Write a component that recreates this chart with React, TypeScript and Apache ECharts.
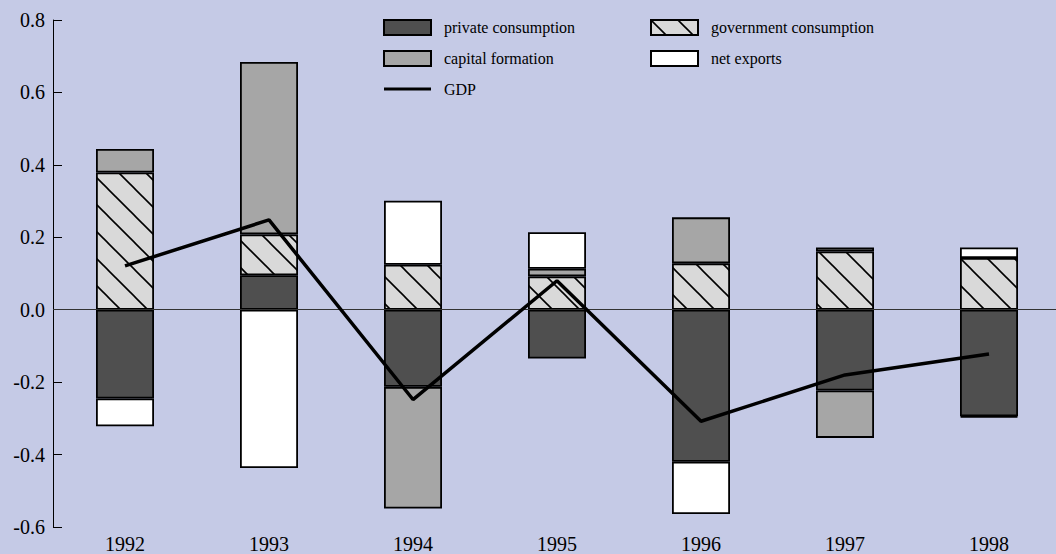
import React, { useEffect, useRef } from "react";
import * as echarts from "echarts";

const categories = ["1992", "1993", "1994", "1995", "1996", "1997", "1998"];
const privateConsumption = [-0.245, 0.095, -0.213, -0.135, -0.42, -0.223, -0.294];
const governmentConsumption = [0.379, 0.113, 0.124, 0.092, 0.128, 0.161, 0.143];
const capitalFormation = [0.065, 0.476, -0.336, 0.021, 0.127, -0.131, -0.003];
const netExports = [-0.077, -0.437, 0.177, 0.101, -0.144, 0.011, 0.029];
const gdp = [0.121, 0.248, -0.248, 0.08, -0.308, -0.18, -0.122];

const FONT = "Liberation Serif, DejaVu Serif, serif";

function makeHatch(): HTMLCanvasElement {
  const s = 27;
  const c = document.createElement("canvas");
  c.width = s;
  c.height = s;
  const ctx = c.getContext("2d")!;
  ctx.fillStyle = "#d9d9d9";
  ctx.fillRect(0, 0, s, s);
  ctx.strokeStyle = "#000";
  ctx.lineWidth = 1.6;
  for (const off of [-s, 0, s]) {
    ctx.beginPath();
    ctx.moveTo(off - 2, -2);
    ctx.lineTo(off + s + 2, s + 2);
    ctx.stroke();
  }
  return c;
}

export default function App() {
  const ref = useRef<HTMLDivElement>(null);
  useEffect(() => {
    if (!ref.current) return;
    const chart = echarts.init(ref.current, undefined, { renderer: "svg" });
    const hatch = makeHatch();
    const barBase = {
      type: "bar" as const,
      stack: "total",
      barWidth: 58,
    };
    const border = { borderColor: "#000", borderWidth: 1.8 };
    const legendText = { fontSize: 16, color: "#000", fontFamily: FONT, padding: [0, 0, 0, 8] };
    chart.setOption({
      animation: false,
      backgroundColor: "#c5cae6",
      textStyle: { fontFamily: FONT },
      grid: { left: 53, top: 20, width: 1008, height: 507.5 },
      legend: [
        {
          left: 383,
          top: 19,
          padding: 0,
          orient: "vertical",
          itemWidth: 47,
          itemHeight: 15,
          itemGap: 14,
          icon: "rect",
          selectedMode: false,
          textStyle: legendText,
          data: [
            "private consumption",
            "capital formation",
            {
              name: "GDP",
              icon: "path://M0,0 L47,0 L47,3 L0,3 Z",
              itemStyle: { color: "#000", borderWidth: 0 },
            },
          ],
        },
        {
          left: 650,
          top: 19,
          padding: 0,
          orient: "vertical",
          itemWidth: 47,
          itemHeight: 15,
          itemGap: 14,
          icon: "rect",
          selectedMode: false,
          textStyle: legendText,
          data: ["government consumption", "net exports"],
        },
      ],
      xAxis: {
        type: "category",
        data: categories,
        axisLine: { show: false },
        axisTick: { show: false },
        axisLabel: { fontSize: 20, color: "#000", fontFamily: FONT, margin: 7 },
        splitLine: { show: false },
      },
      yAxis: {
        type: "value",
        min: -0.6,
        max: 0.8,
        interval: 0.2,
        axisLine: { show: true, lineStyle: { color: "#000", width: 1 } },
        axisTick: { show: true, inside: true, length: 9, lineStyle: { color: "#000", width: 1 } },
        splitLine: { show: false },
        axisLabel: {
          fontSize: 20,
          color: "#000",
          fontFamily: FONT,
          margin: 8,
          formatter: (v: number) => (Math.abs(v) < 1e-9 ? "0.0" : v.toFixed(1)),
        },
      },
      series: [
        {
          ...barBase,
          name: "private consumption",
          data: privateConsumption,
          itemStyle: { color: "#4f4f4f", ...border },
        },
        {
          ...barBase,
          name: "government consumption",
          data: governmentConsumption,
          itemStyle: { color: { image: hatch, repeat: "repeat" }, ...border },
        },
        {
          ...barBase,
          name: "capital formation",
          data: capitalFormation,
          itemStyle: { color: "#a6a6a6", ...border },
        },
        {
          ...barBase,
          name: "net exports",
          data: netExports,
          itemStyle: { color: "#ffffff", ...border },
        },
        {
          type: "line",
          name: "GDP",
          data: gdp,
          symbol: "none",
          z: 5,
          lineStyle: { color: "#000", width: 3.5 },
          itemStyle: { color: "#000" },
          markLine: {
            silent: true,
            symbol: ["none", "none"],
            label: { show: false },
            lineStyle: { color: "#333", width: 1, type: "solid" },
            data: [{ yAxis: 0 }],
          },
        },
      ],
    });
    return () => chart.dispose();
  }, []);
  return (
    <div
      style={{ position: "fixed", left: 0, top: 0, width: 1056, height: 554, overflow: "hidden" }}
    >
      <div ref={ref} style={{ width: 1066, height: 554 }} />
    </div>
  );
}
